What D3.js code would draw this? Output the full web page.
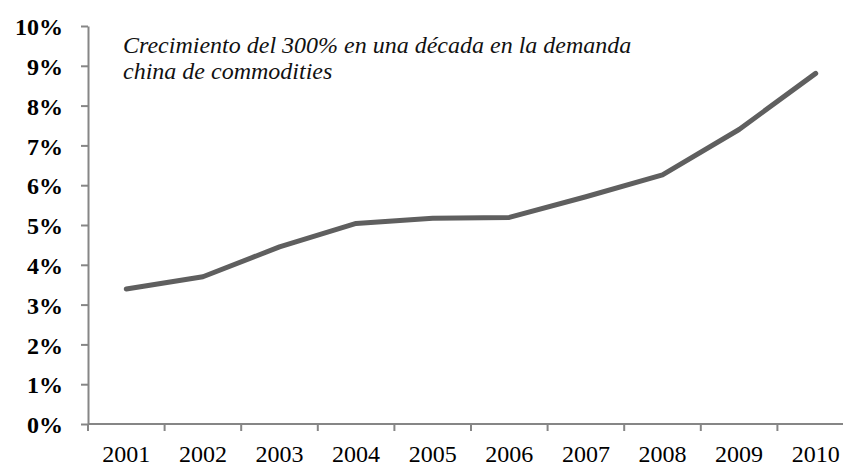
<html lang="es">
<head>
<meta charset="utf-8">
<title>Demanda china de commodities</title>
<style>
  body { margin: 0; background: white; }
  svg { background: white; display: block; }
  .ylab { font-family: "Liberation Serif", "Times New Roman", serif; font-weight: bold; font-size: 24px; fill: #000; }
  .xlab { font-family: "Liberation Serif", "Times New Roman", serif; font-size: 24px; fill: #000; }
  .note { font-family: "Liberation Serif", "Times New Roman", serif; font-style: italic; font-size: 24px; fill: #111; }
</style>
</head>
<body>
<div id="chart"></div>
<script src="https://cdn.jsdelivr.net/npm/d3@7"></script>
<script>
// data
var years = ["2001", "2002", "2003", "2004", "2005", "2006", "2007", "2008", "2009", "2010"];
var share = [3.39, 3.70, 4.45, 5.04, 5.17, 5.19, 5.71, 6.26, 7.40, 8.81];
var yTicks = [0, 1, 2, 3, 4, 5, 6, 7, 8, 9, 10];
var noteLines = ["Crecimiento del 300% en una década en la demanda", "china de commodities"];

var width = 843, height = 466;
var margin = {top: 26, left: 88, right: -11, bottom: 42};

var svg = d3.select("#chart")
    .append("svg")
    .attr("width", width)
    .attr("height", height);

var x = d3.scaleBand()
    .domain(years)
    .range([margin.left, width - margin.right]);

var y = d3.scaleLinear()
    .domain([0, 10])
    .range([height - margin.bottom, margin.top]);

var axisColor = "#868686";

// y axis
var yAxis = svg.append("g")
    .attr("transform", "translate(" + margin.left + ",0)")
    .call(d3.axisLeft(y).tickValues(yTicks).tickSize(7).tickSizeOuter(0)
        .tickFormat(function(d) { return d + "%"; }));
yAxis.select(".domain").attr("stroke", axisColor).attr("stroke-width", 2);
yAxis.selectAll(".tick line").attr("stroke", axisColor).attr("stroke-width", 2);
yAxis.selectAll(".tick text")
    .attr("class", "ylab")
    .attr("x", -25)
    .attr("dy", "0.36em")
    .attr("font-family", null).attr("font-size", null);

// x axis, ticks between categories
var xAxis = svg.append("g")
    .attr("transform", "translate(0," + y(0) + ")");
xAxis.append("line")
    .attr("x1", margin.left).attr("x2", width)
    .attr("stroke", axisColor).attr("stroke-width", 2);
xAxis.selectAll(".xtick")
    .data(years)
    .enter().append("line")
    .attr("x1", function(d) { return x(d); })
    .attr("x2", function(d) { return x(d); })
    .attr("y1", 0).attr("y2", 7)
    .attr("stroke", axisColor).attr("stroke-width", 2);
xAxis.selectAll(".xlab")
    .data(years)
    .enter().append("text")
    .attr("class", "xlab")
    .attr("x", function(d) { return x(d) + x.bandwidth() / 2; })
    .attr("y", 38)
    .attr("text-anchor", "middle")
    .text(function(d) { return d; });

// series line
var line = d3.line()
    .x(function(d, i) { return x(years[i]) + x.bandwidth() / 2; })
    .y(function(d) { return y(d); });

svg.append("path")
    .datum(share)
    .attr("d", line)
    .attr("fill", "none")
    .attr("stroke", "#5f5f5f")
    .attr("stroke-width", 5)
    .attr("stroke-linecap", "round")
    .attr("stroke-linejoin", "round");

// annotation
svg.selectAll(".note")
    .data(noteLines)
    .enter().append("text")
    .attr("class", "note")
    .attr("x", 123)
    .attr("y", function(d, i) { return 53 + i * 26; })
    .text(function(d) { return d; });
</script>
</body>
</html>
